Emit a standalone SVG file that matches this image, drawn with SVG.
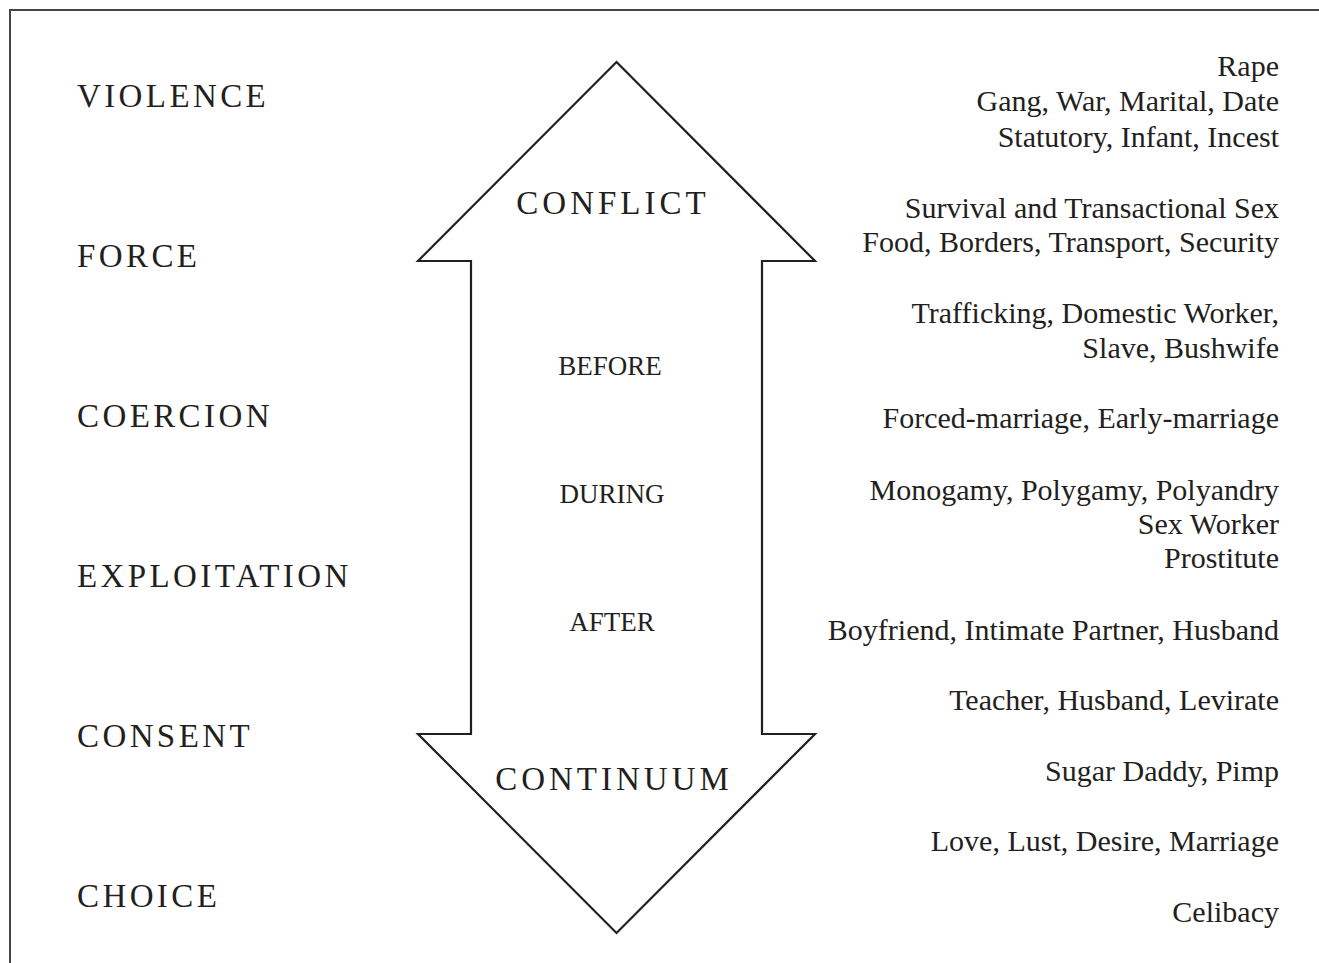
<svg xmlns="http://www.w3.org/2000/svg" width="1319" height="963" viewBox="0 0 1319 963">
<style>
.lvl{font-family:"Liberation Serif",serif;font-size:33px;letter-spacing:3.4px;fill:#231f20}
.big{font-family:"Liberation Serif",serif;font-size:33px;letter-spacing:4px;fill:#231f20;text-anchor:middle}
.mid{font-family:"Liberation Serif",serif;font-size:27px;fill:#231f20;text-anchor:middle}
.r{font-family:"Liberation Serif",serif;font-size:30px;fill:#231f20;text-anchor:end}
</style>
<rect x="10" y="10" width="1330" height="980" fill="#fff" stroke="#444" stroke-width="2"/>
<g id="arrow">
<polygon points="616.5,62 815,261 762,261 762,734 815,734 616.5,933 418,734 471,734 471,261 418,261" fill="#fff" stroke="#231f20" stroke-width="2.2" stroke-linejoin="miter"/>
<text class="big" x="613" y="214">CONFLICT</text>
<text class="big" x="614" y="790">CONTINUUM</text>
<text class="mid" x="610" y="375">BEFORE</text>
<text class="mid" x="612" y="503">DURING</text>
<text class="mid" x="612" y="631">AFTER</text>
</g>
<g id="levels">
<text class="lvl" x="77" y="107">VIOLENCE</text>
<text class="lvl" x="77" y="267">FORCE</text>
<text class="lvl" x="77" y="427">COERCION</text>
<text class="lvl" x="77" y="587">EXPLOITATION</text>
<text class="lvl" x="77" y="747">CONSENT</text>
<text class="lvl" x="77" y="907">CHOICE</text>
</g>
<g id="examples">
<text class="r" x="1279" y="76">Rape</text>
<text class="r" x="1279" y="111">Gang, War, Marital, Date</text>
<text class="r" x="1279" y="147">Statutory, Infant, Incest</text>
<text class="r" x="1279" y="218">Survival and Transactional Sex</text>
<text class="r" x="1279" y="252">Food, Borders, Transport, Security</text>
<text class="r" x="1279" y="323">Trafficking, Domestic Worker,</text>
<text class="r" x="1279" y="358">Slave, Bushwife</text>
<text class="r" x="1279" y="428">Forced-marriage, Early-marriage</text>
<text class="r" x="1279" y="500">Monogamy, Polygamy, Polyandry</text>
<text class="r" x="1279" y="534">Sex Worker</text>
<text class="r" x="1279" y="568">Prostitute</text>
<text class="r" x="1279" y="640">Boyfriend, Intimate Partner, Husband</text>
<text class="r" x="1279" y="710">Teacher, Husband, Levirate</text>
<text class="r" x="1279" y="781">Sugar Daddy, Pimp</text>
<text class="r" x="1279" y="851">Love, Lust, Desire, Marriage</text>
<text class="r" x="1279" y="922">Celibacy</text>
</g>
</svg>
